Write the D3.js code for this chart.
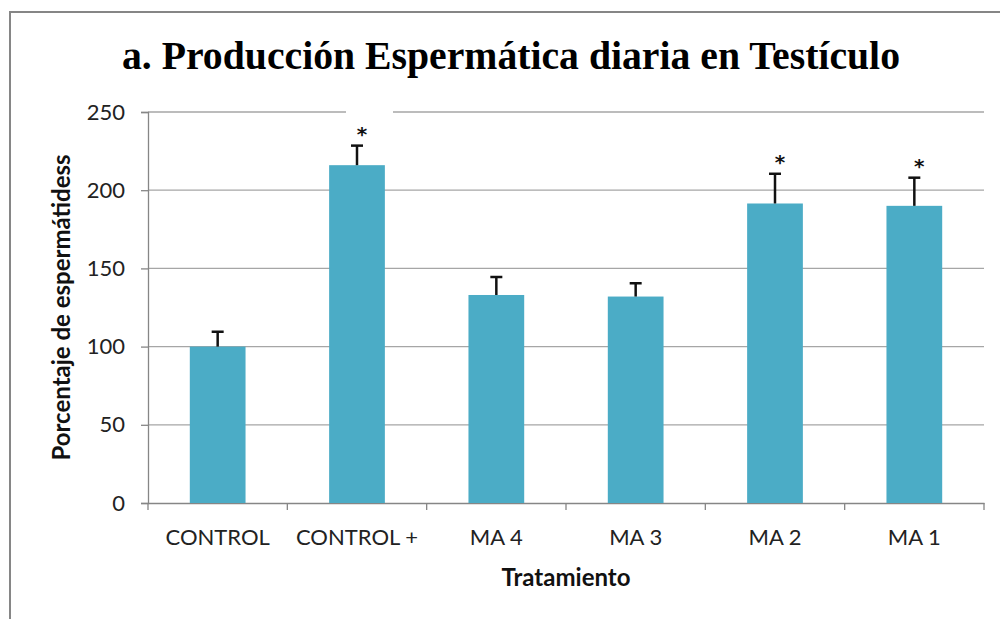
<!DOCTYPE html>
<html>
<head>
<meta charset="utf-8">
<script src="https://cdn.jsdelivr.net/npm/d3@7"></script>
<style>
  body { margin: 0; background: #fff; }
  svg { display: block; }
</style>
</head>
<body>
<div id="chart"></div>
<script>
// data
var categories = ["CONTROL", "CONTROL +", "MA 4", "MA 3", "MA 2", "MA 1"];
var values     = [100, 216, 133, 132, 191.5, 190];
var errors     = [9.5, 12.5, 11.5, 8.5, 19, 18];
var signif     = [false, true, false, false, true, true];
var yTicks     = [0, 50, 100, 150, 200, 250];

var W = 1000, H = 619;
var plot = {left: 148, right: 984, top: 112, bottom: 503};
var sans = "Lato, 'Open Sans', sans-serif";

var svg = d3.select("#chart").append("svg")
    .attr("width", W)
    .attr("height", H);

// outer chart frame (runs off the picture on the right / bottom)
svg.append("rect")
    .attr("x", 10).attr("y", 12)
    .attr("width", W + 20).attr("height", H + 20)
    .attr("fill", "#fff")
    .attr("stroke", "#868686")
    .attr("stroke-width", 2);

var x = d3.scaleBand()
    .domain(categories)
    .range([plot.left, plot.right])
    .padding(0);

var y = d3.scaleLinear()
    .domain([0, 250])
    .range([plot.bottom, plot.top]);

// gridlines
svg.append("g")
    .selectAll("line")
    .data(yTicks.filter(function(d) { return d > 0; }))
    .join("line")
    .attr("x1", plot.left).attr("x2", plot.right)
    .attr("y1", function(d) { return y(d); })
    .attr("y2", function(d) { return y(d); })
    .attr("stroke", "#a6a6a6")
    .attr("stroke-width", 1.3);

// the title box hides a bit of the top gridline
svg.append("rect")
    .attr("x", 346).attr("y", y(250) - 3)
    .attr("width", 47).attr("height", 6)
    .attr("fill", "#fff");

// y axis
var yAxis = svg.append("g")
    .attr("transform", "translate(" + plot.left + ",0)")
    .call(d3.axisLeft(y).tickValues(yTicks).tickSize(7).tickPadding(16));
yAxis.select(".domain").attr("stroke", "#868686").attr("stroke-width", 1.3);
yAxis.selectAll(".tick line").attr("stroke", "#868686").attr("stroke-width", 1.3);
yAxis.selectAll(".tick text")
    .attr("font-family", sans)
    .attr("font-size", 22)
    .attr("fill", "#222");

// x axis
var xAxis = svg.append("g")
    .attr("transform", "translate(0," + plot.bottom + ")")
    .call(d3.axisBottom(x).tickSize(0).tickPadding(26));
xAxis.select(".domain").attr("stroke", "#868686").attr("stroke-width", 1.3);
xAxis.selectAll(".tick text")
    .attr("font-family", sans)
    .attr("font-size", 22)
    .attr("fill", "#222");

// x ticks sit on category boundaries
svg.append("g")
    .selectAll("line")
    .data(d3.range(categories.length + 1))
    .join("line")
    .attr("x1", function(i) { return plot.left + i * x.step(); })
    .attr("x2", function(i) { return plot.left + i * x.step(); })
    .attr("y1", plot.bottom)
    .attr("y2", plot.bottom + 7)
    .attr("stroke", "#868686")
    .attr("stroke-width", 1.3);

var rows = categories.map(function(c, i) {
    return {cat: c, val: values[i], err: errors[i], sig: signif[i]};
});
var barW = x.bandwidth() * 0.4;
function cx(d) { return x(d.cat) + x.bandwidth() / 2; }

// bars
svg.append("g")
    .selectAll("rect")
    .data(rows)
    .join("rect")
    .attr("x", function(d) { return cx(d) - barW / 2; })
    .attr("y", function(d) { return y(d.val); })
    .attr("width", barW)
    .attr("height", function(d) { return y(0) - y(d.val); })
    .attr("fill", "#4bacc6");

// error bars
var eg = svg.append("g").attr("stroke", "#111").attr("stroke-width", 2.5);
rows.forEach(function(d) {
    var c = cx(d), top = y(d.val + d.err);
    eg.append("line")
        .attr("x1", c).attr("x2", c)
        .attr("y1", y(d.val)).attr("y2", top);
    eg.append("line")
        .attr("x1", c - 6).attr("x2", c + 6)
        .attr("y1", top).attr("y2", top);
});

// significance marks
svg.append("g")
    .selectAll("text")
    .data(rows.filter(function(d) { return d.sig; }))
    .join("text")
    .attr("x", function(d) { return cx(d) + 5; })
    .attr("y", function(d) { return y(d.val + d.err) - 5; })
    .attr("text-anchor", "middle")
    .attr("font-family", "'DejaVu Sans', sans-serif")
    .attr("font-weight", "bold")
    .attr("font-size", 20)
    .attr("fill", "#111")
    .text("*");

// title
svg.append("text")
    .attr("x", 511)
    .attr("y", 69)
    .attr("text-anchor", "middle")
    .attr("font-family", "'Liberation Serif', 'DejaVu Serif', serif")
    .attr("font-weight", "bold")
    .attr("font-size", 39)
    .attr("textLength", 778)
    .attr("lengthAdjust", "spacingAndGlyphs")
    .attr("fill", "#000")
    .text("a. Producción  Espermática  diaria  en  Testículo");

// axis titles
svg.append("text")
    .attr("transform", "translate(70," + ((plot.top + plot.bottom) / 2) + ") rotate(-90)")
    .attr("text-anchor", "middle")
    .attr("font-family", sans)
    .attr("font-weight", "bold")
    .attr("font-size", 24)
    .attr("fill", "#111")
    .text("Porcentaje de espermátidess");

svg.append("text")
    .attr("x", (plot.left + plot.right) / 2)
    .attr("y", 586)
    .attr("text-anchor", "middle")
    .attr("font-family", sans)
    .attr("font-weight", "bold")
    .attr("font-size", 24)
    .attr("fill", "#111")
    .text("Tratamiento");
</script>
</body>
</html>
